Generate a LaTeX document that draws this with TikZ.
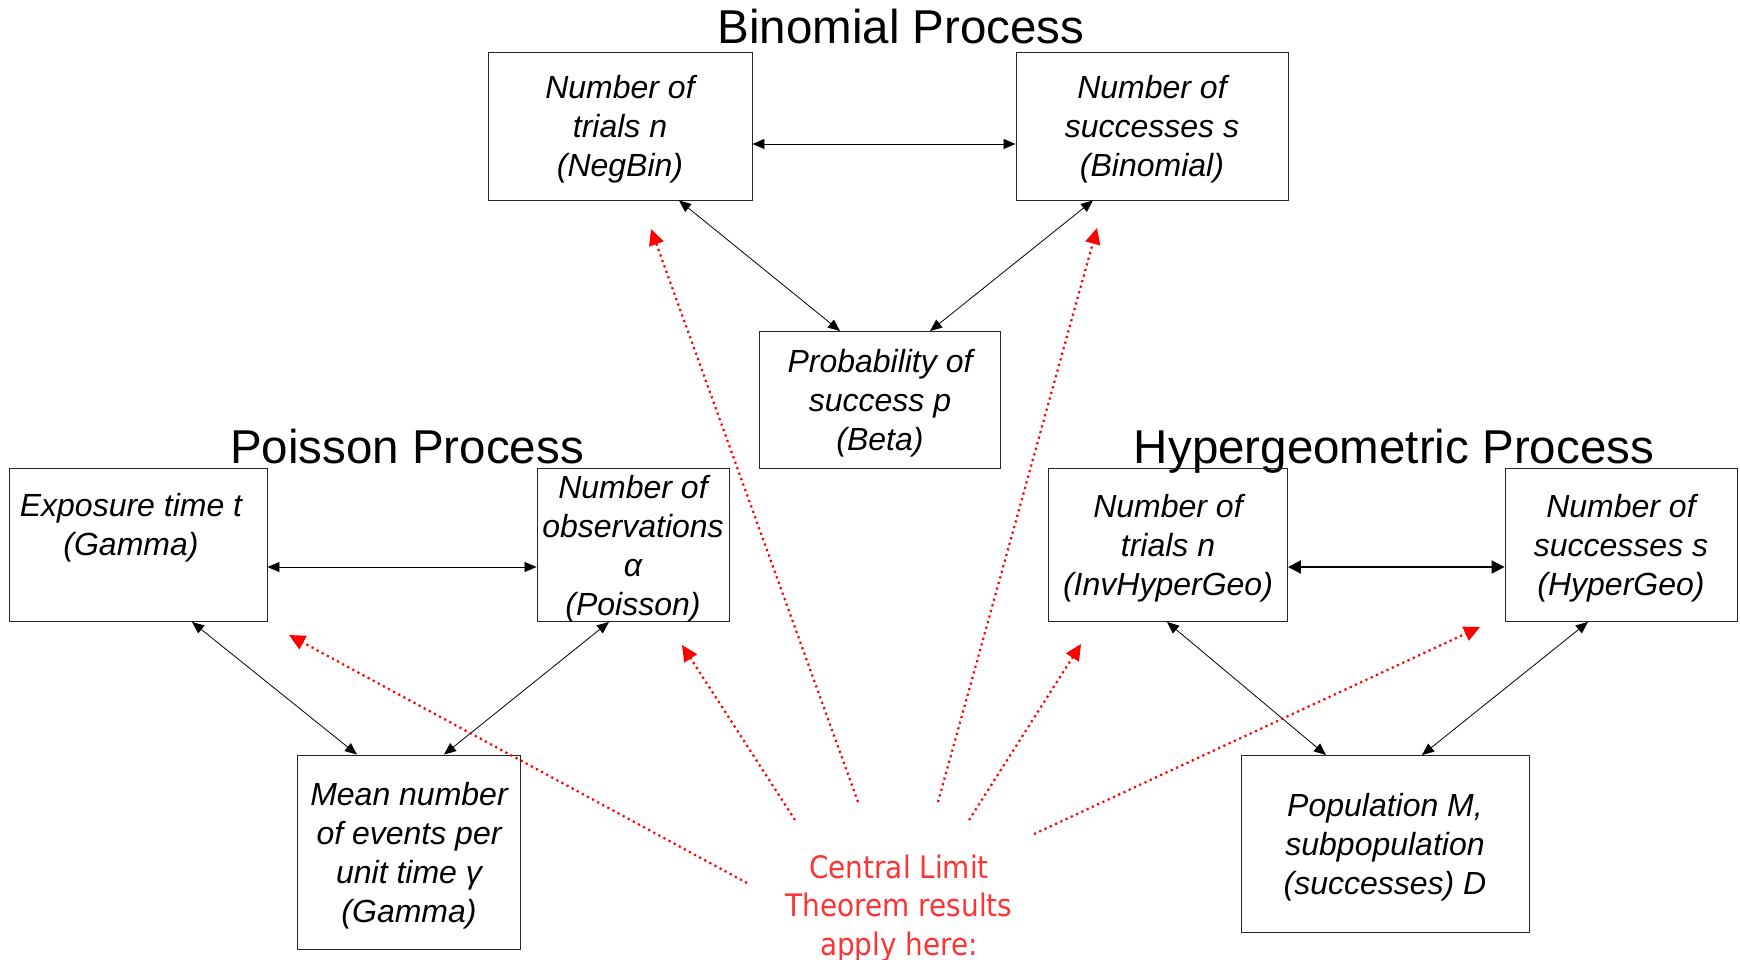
\documentclass[tikz,border=0pt]{standalone}
\usepackage{fontspec}
\setmainfont{Liberation Sans}
\newfontfamily\cltfont[FakeStretch=0.9]{DejaVu Sans}
\usetikzlibrary{arrows.meta}
\definecolor{cltred}{RGB}{255,51,51}

\begin{document}
\begin{tikzpicture}[x=1pt,y=1pt,
  box/.style={draw=black!85,line width=0.9pt,inner sep=0pt,align=center,text depth=0pt,
    font=\fontsize{32}{39}\selectfont\itshape},
  boxtext/.style={inner sep=0pt,align=center,font=\fontsize{32}{39}\selectfont\itshape},
  heading/.style={anchor=base,inner sep=0pt,font=\fontsize{47.5}{50}\selectfont},
  link/.style={black,line width=0.8pt,{Triangle[length=12pt,width=10pt]}-{Triangle[length=12pt,width=10pt]}},
  thicklink/.style={black,line width=2pt,{Triangle[length=13pt,width=13pt]}-{Triangle[length=13pt,width=13pt]}},
  cltarrow/.style={red,line width=2.2pt,dash pattern=on 2.2pt off 3.6pt,-{Triangle[length=16pt,width=15pt]}}]
 	\tikzstyle{every node}+=[inner sep=0pt]
 	\useasboundingbox (0,0) rectangle (1740,-960);
 	% binomial process
 	\node[heading] (binomtitle) at (901,-44) {Binomial Process};
 	\node[box,minimum width=264pt,minimum height=148pt] (negbin) at (620,-126) {Number of\\trials n\\(NegBin)};
 	\node[box,minimum width=272pt,minimum height=148pt] (binom) at (1152,-126) {Number of\\successes s\\(Binomial)};
 	\node[box,minimum width=241pt,minimum height=137pt] (beta) at (880,-400) {Probability of\\success p\\(Beta)};
 	\draw[link] ([yshift=-18pt]negbin.east) -- ([yshift=-18pt]binom.west);
 	\draw[link] ([xshift=59pt]negbin.south) -- ([xshift=-40pt]beta.north);
 	\draw[link] ([xshift=-59pt]binom.south) -- ([xshift=50pt]beta.north);
 	% poisson process
 	\node[heading] (poistitle) at (407,-463) {Poisson Process};
 	\node[box,minimum width=258pt,minimum height=153pt] (expo) at (138,-545) {};
 	\node[boxtext] (expotext) at (131,-528) {Exposure time t\\(Gamma)};
 	\node[box,minimum width=192pt,minimum height=153pt] (pois) at (633,-545) {Number of\\observations\\α\\(Poisson)};
 	\node[box,minimum width=223pt,minimum height=194pt] (meanrate) at (409,-852) {Mean number\\of events per\\unit time γ\\(Gamma)};
 	\draw[link] ([yshift=-22pt]expo.east) -- ([yshift=-22pt]pois.west);
 	\draw[link] ([xshift=54pt]expo.south) -- ([xshift=-52pt]meanrate.north);
 	\draw[link] ([xshift=-24pt]pois.south) -- ([xshift=35pt]meanrate.north);
 	% hypergeometric process
 	\node[heading] (hypertitle) at (1394,-463) {Hypergeometric Process};
 	\node[box,minimum width=239pt,minimum height=153pt] (invhyper) at (1168,-545) {Number of\\trials n\\(InvHyperGeo)};
 	\node[box,minimum width=232pt,minimum height=153pt] (hypergeo) at (1621,-545) {Number of\\successes s\\(HyperGeo)};
 	\node[box,minimum width=288pt,minimum height=177pt] (popul) at (1385,-844) {Population M,\\subpopulation\\(successes) D};
 	\draw[thicklink] ([yshift=-22pt]invhyper.east) -- ([yshift=-22pt]hypergeo.west);
 	\draw[link] ([xshift=-1pt]invhyper.south) -- ([xshift=-59pt]popul.north);
 	\draw[link] ([xshift=-33pt]hypergeo.south) -- ([xshift=37pt]popul.north);
 	% central limit theorem
 	\node[align=center,text=cltred,font=\cltfont\fontsize{31}{38.5}\selectfont] (clt) at (899,-908) {Central Limit\\Theorem results\\apply here:};
 	\coordinate (clt1) at (747,-883);
 	\coordinate (clt2) at (795,-820);
 	\coordinate (clt3) at (858,-802);
 	\coordinate (clt4) at (938,-802);
 	\coordinate (clt5) at (969,-820);
 	\coordinate (clt6) at (1034,-834);
 	\coordinate (tip1) at (289,-635);
 	\coordinate (tip2) at (682,-645);
 	\coordinate (tip3) at (651,-229);
 	\coordinate (tip4) at (1097,-228);
 	\coordinate (tip5) at (1081,-644);
 	\coordinate (tip6) at (1480,-627);
 	\draw[cltarrow] (clt1) -- (tip1);
 	\draw[cltarrow] (clt2) -- (tip2);
 	\draw[cltarrow] (clt3) -- (tip3);
 	\draw[cltarrow] (clt4) -- (tip4);
 	\draw[cltarrow] (clt5) -- (tip5);
 	\draw[cltarrow] (clt6) -- (tip6);
\end{tikzpicture}
\end{document}
